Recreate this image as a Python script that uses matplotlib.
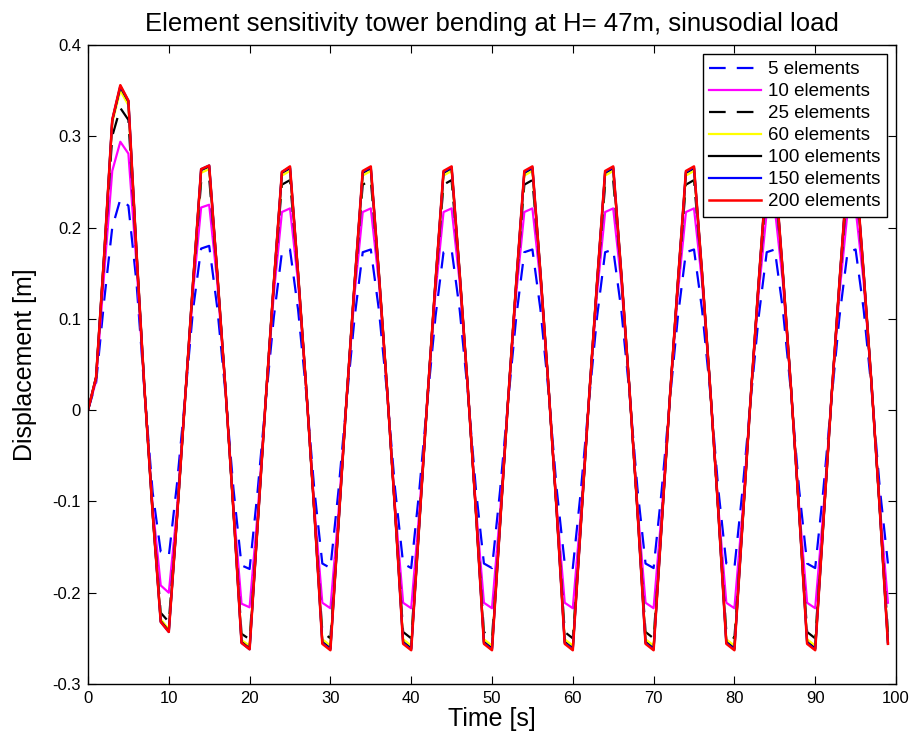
import matplotlib
matplotlib.use("Agg")
import matplotlib.pyplot as plt

plt.rcParams['font.family'] = ['Liberation Sans', 'DejaVu Sans']

time = list(range(100))

s5 = [0.000, 0.030, 0.120, 0.200, 0.231, 0.224, 0.140, 0.020, -0.090, -0.155,
      -0.160, -0.082, 0.012, 0.110, 0.177, 0.180, 0.112, 0.020, -0.086, -0.170,
      -0.174, -0.088, 0.010, 0.102, 0.173, 0.176, 0.110, 0.020, -0.086, -0.168,
      -0.173, -0.088, 0.010, 0.102, 0.173, 0.176, 0.110, 0.020, -0.086, -0.168,
      -0.173, -0.088, 0.010, 0.102, 0.173, 0.176, 0.110, 0.020, -0.086, -0.168,
      -0.173, -0.088, 0.010, 0.102, 0.173, 0.176, 0.110, 0.020, -0.086, -0.168,
      -0.173, -0.088, 0.010, 0.102, 0.173, 0.176, 0.110, 0.020, -0.086, -0.168,
      -0.173, -0.088, 0.010, 0.102, 0.173, 0.176, 0.110, 0.020, -0.086, -0.168,
      -0.173, -0.088, 0.010, 0.102, 0.173, 0.176, 0.110, 0.020, -0.086, -0.168,
      -0.173, -0.088, 0.010, 0.102, 0.173, 0.176, 0.110, 0.020, -0.086, -0.168]

s10 = [0.000, 0.032, 0.150, 0.262, 0.294, 0.281, 0.160, 0.020, -0.105, -0.192,
       -0.200, -0.110, 0.012, 0.130, 0.222, 0.225, 0.140, 0.025, -0.105, -0.212,
       -0.216, -0.112, 0.012, 0.128, 0.217, 0.221, 0.140, 0.025, -0.105, -0.211,
       -0.217, -0.112, 0.012, 0.128, 0.217, 0.221, 0.140, 0.025, -0.105, -0.211,
       -0.217, -0.112, 0.012, 0.128, 0.217, 0.221, 0.140, 0.025, -0.105, -0.211,
       -0.217, -0.112, 0.012, 0.128, 0.217, 0.221, 0.140, 0.025, -0.105, -0.211,
       -0.217, -0.112, 0.012, 0.128, 0.217, 0.221, 0.140, 0.025, -0.105, -0.211,
       -0.217, -0.112, 0.012, 0.128, 0.217, 0.221, 0.140, 0.025, -0.105, -0.211,
       -0.217, -0.112, 0.012, 0.128, 0.217, 0.221, 0.140, 0.025, -0.105, -0.211,
       -0.217, -0.112, 0.012, 0.128, 0.217, 0.221, 0.140, 0.025, -0.105, -0.211]

s25 = [0.000, 0.035, 0.165, 0.300, 0.331, 0.318, 0.170, 0.022, -0.110, -0.222,
       -0.232, -0.118, 0.010, 0.137, 0.250, 0.254, 0.147, 0.025, -0.109, -0.245,
       -0.251, -0.122, 0.012, 0.137, 0.247, 0.252, 0.147, 0.025, -0.109, -0.243,
       -0.250, -0.122, 0.012, 0.137, 0.247, 0.252, 0.147, 0.025, -0.109, -0.243,
       -0.250, -0.122, 0.012, 0.137, 0.247, 0.252, 0.147, 0.025, -0.109, -0.243,
       -0.250, -0.122, 0.012, 0.137, 0.247, 0.252, 0.147, 0.025, -0.109, -0.243,
       -0.250, -0.122, 0.012, 0.137, 0.247, 0.252, 0.147, 0.025, -0.109, -0.243,
       -0.250, -0.122, 0.012, 0.137, 0.247, 0.252, 0.147, 0.025, -0.109, -0.243,
       -0.250, -0.122, 0.012, 0.137, 0.247, 0.252, 0.147, 0.025, -0.109, -0.243,
       -0.250, -0.122, 0.012, 0.137, 0.247, 0.252, 0.147, 0.025, -0.109, -0.243]

s60 = [0.000, 0.036, 0.170, 0.315, 0.350, 0.334, 0.173, 0.022, -0.113, -0.229,
       -0.240, -0.120, 0.010, 0.140, 0.260, 0.264, 0.150, 0.025, -0.110, -0.252,
       -0.258, -0.124, 0.012, 0.140, 0.257, 0.262, 0.150, 0.025, -0.110, -0.251,
       -0.258, -0.124, 0.012, 0.140, 0.257, 0.262, 0.150, 0.025, -0.110, -0.251,
       -0.258, -0.124, 0.012, 0.140, 0.257, 0.262, 0.150, 0.025, -0.110, -0.251,
       -0.258, -0.124, 0.012, 0.140, 0.257, 0.262, 0.150, 0.025, -0.110, -0.251,
       -0.258, -0.124, 0.012, 0.140, 0.257, 0.262, 0.150, 0.025, -0.110, -0.251,
       -0.258, -0.124, 0.012, 0.140, 0.257, 0.262, 0.150, 0.025, -0.110, -0.251,
       -0.258, -0.124, 0.012, 0.140, 0.257, 0.262, 0.150, 0.025, -0.110, -0.251,
       -0.258, -0.124, 0.012, 0.140, 0.257, 0.262, 0.150, 0.025, -0.110, -0.251]

s100 = [0.000, 0.036, 0.170, 0.317, 0.354, 0.338, 0.174, 0.022, -0.113, -0.231,
        -0.242, -0.120, 0.010, 0.140, 0.263, 0.267, 0.150, 0.025, -0.110, -0.254,
        -0.261, -0.125, 0.012, 0.140, 0.260, 0.265, 0.150, 0.025, -0.110, -0.254,
        -0.261, -0.125, 0.012, 0.140, 0.260, 0.265, 0.150, 0.025, -0.110, -0.254,
        -0.261, -0.125, 0.012, 0.140, 0.260, 0.265, 0.150, 0.025, -0.110, -0.254,
        -0.261, -0.125, 0.012, 0.140, 0.260, 0.265, 0.150, 0.025, -0.110, -0.254,
        -0.261, -0.125, 0.012, 0.140, 0.260, 0.265, 0.150, 0.025, -0.110, -0.254,
        -0.261, -0.125, 0.012, 0.140, 0.260, 0.265, 0.150, 0.025, -0.110, -0.254,
        -0.261, -0.125, 0.012, 0.140, 0.260, 0.265, 0.150, 0.025, -0.110, -0.254,
        -0.261, -0.125, 0.012, 0.140, 0.260, 0.265, 0.150, 0.025, -0.110, -0.254]

s150 = [0.000, 0.036, 0.170, 0.318, 0.355, 0.339, 0.174, 0.022, -0.113, -0.232,
        -0.243, -0.120, 0.010, 0.140, 0.264, 0.268, 0.150, 0.025, -0.110, -0.255,
        -0.262, -0.125, 0.012, 0.140, 0.261, 0.266, 0.150, 0.025, -0.110, -0.255,
        -0.262, -0.125, 0.012, 0.140, 0.261, 0.266, 0.150, 0.025, -0.110, -0.255,
        -0.262, -0.125, 0.012, 0.140, 0.261, 0.266, 0.150, 0.025, -0.110, -0.255,
        -0.262, -0.125, 0.012, 0.140, 0.261, 0.266, 0.150, 0.025, -0.110, -0.255,
        -0.262, -0.125, 0.012, 0.140, 0.261, 0.266, 0.150, 0.025, -0.110, -0.255,
        -0.262, -0.125, 0.012, 0.140, 0.261, 0.266, 0.150, 0.025, -0.110, -0.255,
        -0.262, -0.125, 0.012, 0.140, 0.261, 0.266, 0.150, 0.025, -0.110, -0.255,
        -0.262, -0.125, 0.012, 0.140, 0.261, 0.266, 0.150, 0.025, -0.110, -0.255]

s200 = [0.000, 0.036, 0.170, 0.318, 0.356, 0.339, 0.174, 0.022, -0.113, -0.232,
        -0.243, -0.120, 0.010, 0.140, 0.264, 0.268, 0.150, 0.025, -0.110, -0.255,
        -0.262, -0.125, 0.012, 0.140, 0.261, 0.267, 0.150, 0.025, -0.110, -0.256,
        -0.263, -0.125, 0.012, 0.140, 0.262, 0.267, 0.150, 0.025, -0.110, -0.256,
        -0.263, -0.125, 0.012, 0.140, 0.262, 0.267, 0.150, 0.025, -0.110, -0.256,
        -0.263, -0.125, 0.012, 0.140, 0.262, 0.267, 0.150, 0.025, -0.110, -0.256,
        -0.263, -0.125, 0.012, 0.140, 0.262, 0.267, 0.150, 0.025, -0.110, -0.256,
        -0.263, -0.125, 0.012, 0.140, 0.262, 0.267, 0.150, 0.025, -0.110, -0.256,
        -0.263, -0.125, 0.012, 0.140, 0.262, 0.267, 0.150, 0.025, -0.110, -0.256,
        -0.263, -0.125, 0.012, 0.140, 0.262, 0.267, 0.150, 0.025, -0.110, -0.256]

labels = ['5 elements', '10 elements', '25 elements', '60 elements',
          '100 elements', '150 elements', '200 elements']
xticks = [0, 10, 20, 30, 40, 50, 60, 70, 80, 90, 100]
yticks = [-0.3, -0.2, -0.1, 0, 0.1, 0.2, 0.3, 0.4]
ytick_labels = ['-0.3', '-0.2', '-0.1', '0', '0.1', '0.2', '0.3', '0.4']

fig = plt.figure(figsize=(9.15, 7.42), dpi=100)
ax = fig.add_axes([88/915, 1-684/742, (896-88)/915, (684-45)/742])

series = [s5, s10, s25, s60, s100, s150, s200]
styles = [
    dict(color='#0000ff', linestyle=(0, (7.5, 5)), linewidth=1.6),
    dict(color='#ff00ff', linestyle='-', linewidth=1.6),
    dict(color='#000000', linestyle=(0, (7.5, 5)), linewidth=1.6),
    dict(color='#ffff00', linestyle='-', linewidth=1.6),
    dict(color='#000000', linestyle='-', linewidth=1.6),
    dict(color='#0000ff', linestyle='-', linewidth=1.6),
    dict(color='#ff0000', linestyle='-', linewidth=1.8),
]
for s, lab, st in zip(series, labels, styles):
    ax.plot(time, s, label=lab, **st)

ax.set_xlim(0, 100)
ax.set_ylim(-0.3, 0.4)
ax.set_xticks(xticks)
ax.set_yticks(yticks)
ax.set_yticklabels(ytick_labels)
ax.tick_params(direction='in', top=True, right=True, length=6, width=0.8,
               labelsize=12, pad=5)
for sp in ax.spines.values():
    sp.set_linewidth(1.0)

ax.set_xlabel('Time [s]', fontsize=18, labelpad=1)
ax.set_ylabel('Displacement [m]', fontsize=18, labelpad=11)
ax.set_title('Element sensitivity tower bending at H= 47m, sinusodial load',
             fontsize=18.5, pad=10)

leg = ax.legend(loc='upper right', fontsize=13.5, handlelength=2.75,
                labelspacing=0.26, borderaxespad=0.5, fancybox=False,
                framealpha=1, edgecolor='black', borderpad=0.35,
                handletextpad=0.35)
leg.get_frame().set_linewidth(1.0)

fig.savefig('out.png', dpi=100)
